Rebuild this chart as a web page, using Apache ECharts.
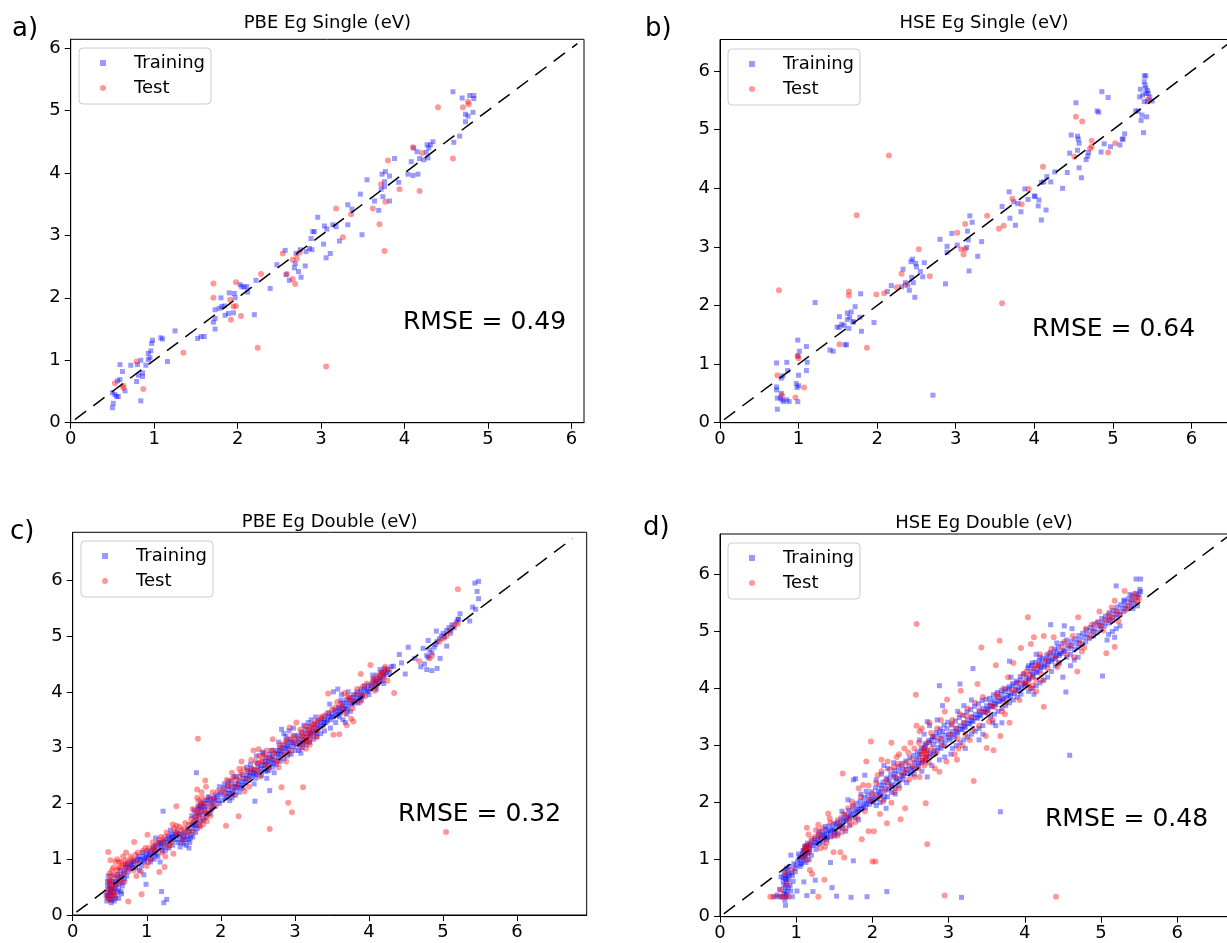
<!DOCTYPE html>
<html>
<head>
<meta charset="utf-8">
<script src="https://cdn.jsdelivr.net/npm/echarts@6/dist/echarts.min.js"></script>
<style>html,body{margin:0;padding:0;background:#fff}#c{width:1227px;height:943px}</style>
</head>
<body>
<div id="c"></div>
<script>
const tickValues = [0, 1, 2, 3, 4, 5, 6];
const panelTitles = ['PBE Eg Single (eV)', 'HSE Eg Single (eV)', 'PBE Eg Double (eV)', 'HSE Eg Double (eV)'];
const panelLetters = ['a)', 'b)', 'c)', 'd)'];
const rmseValues = ['0.49', '0.64', '0.32', '0.48'];
const seriesNames = ['Training', 'Test'];
const xMax = [6.15, 6.72, 6.94, 6.93];
const yMax = [6.14, 6.54, 6.86, 6.71];
const parityEnds = [[0.05, 6.07], [0.05, 6.9], [0.05, 6.75], [0.05, 6.9]];

const pbeSingleTrain = [[0.50,0.24],[0.51,0.31],[0.50,0.48],[0.53,0.45],[0.55,0.42],[0.56,0.67],[0.59,0.69],[0.59,0.93],[0.62,0.82],[0.65,0.51],[0.57,0.42],[0.72,0.92],[0.79,0.66],[0.80,0.93],[0.84,0.35],[0.84,1.00],[0.81,0.76],[0.86,0.74],[0.86,0.80],[0.90,0.92],[0.93,1.01],[0.93,1.11],[0.96,1.15],[0.95,1.04],[0.97,1.27],[0.98,1.32],[1.08,1.36],[1.10,1.34],[1.16,0.98],[1.25,1.47],[1.52,1.35],[1.56,1.38],[1.60,1.38],[1.71,1.61],[1.73,1.50],[1.73,1.67],[1.73,1.81],[1.78,1.83],[1.81,1.86],[1.84,1.87],[1.80,2.00],[1.85,1.72],[1.89,1.75],[1.90,2.08],[1.95,1.76],[1.96,2.07],[1.97,2.00],[2.03,2.21],[2.05,2.18],[2.08,2.17],[2.11,2.18],[2.12,2.09],[2.20,1.73],[2.22,2.28],[2.39,2.15],[2.47,2.53],[2.57,2.76],[2.58,2.37],[2.62,2.28],[2.68,2.48],[2.69,2.55],[2.70,2.71],[2.73,2.42],[2.75,2.77],[2.76,2.33],[2.81,2.51],[2.82,2.74],[2.86,2.79],[2.88,2.95],[2.90,3.06],[2.92,3.06],[2.89,2.77],[2.96,3.29],[3.03,2.86],[3.04,3.15],[3.06,2.64],[3.07,3.10],[3.11,2.71],[3.14,3.17],[3.18,3.14],[3.22,2.91],[3.32,3.49],[3.32,3.17],[3.37,3.42],[3.47,3.66],[3.49,3.01],[3.55,3.89],[3.64,3.55],[3.69,3.40],[3.72,3.74],[3.73,3.98],[3.74,3.62],[3.76,3.78],[3.77,4.02],[3.76,3.86],[3.82,3.55],[3.82,3.95],[3.88,4.23],[3.93,3.85],[4.04,3.98],[4.08,4.18],[4.10,3.96],[4.11,4.40],[4.16,3.98],[4.15,4.34],[4.18,4.23],[4.23,4.21],[4.26,4.33],[4.27,4.45],[4.29,4.40],[4.31,4.45],[4.34,4.50],[4.28,4.24],[4.59,4.49],[4.66,4.59],[4.58,5.30],[4.69,5.20],[4.78,5.24],[4.83,5.24],[4.83,5.19],[4.73,4.94],[4.76,4.91],[4.82,4.97],[4.73,4.82]];
const pbeSingleTest = [[0.53,0.63],[0.63,0.59],[0.63,0.56],[0.79,0.98],[0.87,0.54],[1.35,1.12],[1.71,2.23],[1.71,2.00],[1.92,1.65],[1.91,1.97],[1.95,1.86],[1.98,1.87],[1.98,2.25],[2.04,1.71],[2.24,1.20],[2.28,2.38],[2.54,2.71],[2.59,2.38],[2.66,2.61],[2.71,2.63],[2.66,2.30],[2.69,2.22],[2.74,2.72],[3.06,0.90],[3.18,3.43],[3.26,2.97],[3.36,3.34],[3.62,3.43],[3.70,3.18],[3.72,3.82],[3.76,2.75],[3.77,3.54],[3.80,4.20],[3.94,3.74],[4.10,4.41],[4.18,3.71],[4.21,4.32],[4.40,5.05],[4.58,4.23],[4.70,5.05],[4.76,5.14],[4.77,5.10]];

const hseSingleTrain = [[0.72,1.02],[0.72,0.61],[0.72,0.56],[0.73,0.42],[0.73,0.23],[0.78,0.76],[0.80,0.80],[0.78,0.50],[0.79,0.39],[0.81,0.36],[0.85,1.03],[0.86,0.89],[0.85,0.39],[0.88,0.36],[0.77,0.42],[0.99,1.41],[1.01,1.22],[0.99,1.14],[1.00,0.81],[0.97,0.67],[0.98,0.60],[1.00,0.63],[0.99,0.36],[1.10,1.30],[1.11,1.03],[1.10,0.89],[1.21,2.05],[1.40,1.24],[1.44,1.22],[1.49,1.63],[1.52,1.81],[1.52,1.63],[1.55,1.68],[1.58,1.66],[1.59,1.33],[1.61,1.33],[1.62,1.87],[1.62,1.76],[1.64,1.61],[1.65,1.80],[1.67,1.89],[1.69,1.72],[1.72,1.98],[1.70,1.72],[1.78,1.80],[1.79,2.20],[1.80,1.56],[1.96,1.71],[2.13,2.24],[2.18,2.34],[2.31,2.32],[2.33,2.62],[2.36,2.39],[2.39,2.35],[2.41,2.26],[2.43,2.75],[2.44,2.48],[2.45,2.79],[2.46,2.39],[2.48,2.14],[2.49,2.72],[2.50,2.66],[2.55,2.58],[2.58,2.49],[2.60,2.73],[2.71,0.47],[2.80,3.13],[2.87,2.37],[2.89,3.01],[2.89,2.91],[2.95,3.23],[3.02,3.03],[3.14,2.99],[3.15,3.27],[3.16,3.12],[3.17,2.59],[3.18,3.53],[3.21,3.42],[3.28,2.84],[3.33,3.09],[3.59,3.69],[3.68,3.94],[3.69,3.49],[3.74,3.77],[3.76,3.37],[3.79,3.74],[3.83,3.60],[3.88,3.99],[3.92,3.81],[4.00,3.87],[4.01,3.86],[4.05,3.70],[4.06,3.80],[4.09,4.10],[4.09,3.46],[4.12,4.11],[4.15,3.63],[4.16,4.20],[4.21,4.11],[4.26,4.28],[4.36,4.00],[4.42,4.27],[4.45,4.60],[4.47,4.91],[4.53,5.46],[4.55,4.89],[4.56,4.84],[4.57,4.77],[4.57,4.35],[4.55,4.65],[4.60,4.18],[4.66,4.49],[4.69,4.61],[4.68,4.55],[4.80,5.32],[4.82,5.30],[4.86,5.65],[4.85,4.62],[4.89,4.76],[4.94,5.55],[4.97,4.71],[5.09,4.74],[5.12,4.84],[5.13,4.84],[5.15,4.93],[5.29,5.32],[5.32,5.32],[5.34,5.56],[5.35,5.69],[5.36,5.16],[5.37,5.25],[5.39,4.95],[5.40,5.92],[5.42,5.92],[5.40,5.82],[5.41,5.76],[5.42,5.71],[5.42,5.62],[5.43,5.22],[5.44,5.67],[5.45,5.62],[5.38,5.59],[5.40,5.48],[5.44,5.48],[5.47,5.56],[5.50,5.49]];
const hseSingleTest = [[0.73,0.81],[0.75,2.26],[0.79,0.47],[0.96,0.43],[0.99,1.14],[1.00,1.10],[1.07,0.60],[1.52,1.34],[1.64,2.24],[1.64,2.17],[1.74,3.54],[1.87,1.28],[1.99,2.19],[2.09,2.21],[2.15,4.56],[2.25,2.31],[2.31,2.54],[2.36,2.35],[2.53,2.96],[2.67,2.50],[3.02,3.24],[3.07,2.96],[3.10,2.87],[3.12,2.96],[3.12,3.39],[3.40,3.53],[3.55,3.31],[3.59,2.04],[3.61,3.36],[3.72,3.82],[3.84,3.73],[3.93,3.99],[4.11,4.37],[4.51,4.54],[4.53,5.22],[4.61,5.14],[4.71,4.68],[4.73,4.71],[4.73,4.81],[4.94,4.61],[5.03,4.77],[5.45,5.52]];

const pbeDoubleTrain = [[0.46,0.25],[0.47,0.32],[0.48,0.40],[0.49,0.45],[0.47,0.52],[0.50,0.28],[0.52,0.35],[0.53,0.50],[0.55,0.42],[0.57,0.60],[0.50,0.60],[0.48,0.70],[0.55,0.70],[0.60,0.65],[0.62,0.55],[0.58,0.30],[0.52,0.22],[0.56,0.25],[0.62,0.30],[0.65,0.42],[0.65,0.72],[0.70,0.80],[0.72,0.85],[0.75,0.78],[0.78,0.88],[0.80,0.90],[0.82,0.95],[0.85,0.85],[0.88,0.92],[0.90,0.98],[0.92,1.00],[0.95,1.05],[0.97,0.95],[0.99,1.10],[1.00,1.02],[0.70,0.65],[0.68,0.58],[0.74,0.92],[0.62,0.45],[0.66,0.38],[0.90,0.80],[0.93,0.88],[0.96,0.72],[0.99,0.55],[1.02,1.05],[1.05,1.12],[1.08,1.18],[1.10,1.10],[1.12,1.25],[1.15,1.20],[1.18,1.28],[1.20,1.30],[1.22,1.22],[1.25,1.35],[1.28,1.30],[1.30,1.38],[1.33,1.40],[1.35,1.35],[1.38,1.45],[1.40,1.42],[1.42,1.30],[1.45,1.38],[1.48,1.45],[1.50,1.40],[1.05,0.95],[1.10,1.00],[1.15,1.05],[1.18,0.95],[1.25,1.15],[1.30,1.20],[1.35,1.25],[1.45,1.22],[1.50,1.28],[1.12,1.38],[1.22,1.86],[1.32,1.52],[1.20,0.42],[1.27,0.28],[1.23,0.22],[1.52,1.35],[1.55,1.42],[1.58,1.30],[1.58,1.50],[1.60,1.45],[1.62,1.55],[1.63,1.65],[1.65,1.60],[1.65,1.75],[1.67,1.70],[1.68,1.82],[1.70,1.78],[1.70,1.90],[1.72,1.85],[1.72,1.95],[1.74,1.92],[1.75,1.80],[1.76,2.00],[1.78,1.88],[1.80,1.95],[1.82,2.05],[1.85,2.00],[1.88,1.92],[1.90,2.10],[1.92,2.05],[1.95,2.12],[1.98,2.00],[2.00,2.15],[1.55,1.55],[1.60,1.62],[1.68,1.55],[1.73,1.68],[1.80,1.75],[1.85,1.82],[1.62,1.40],[1.66,1.48],[1.67,2.55],[2.02,2.05],[2.05,2.20],[2.08,2.12],[2.10,2.25],[2.12,2.18],[2.15,2.30],[2.18,2.22],[2.20,2.35],[2.22,2.28],[2.25,2.40],[2.28,2.32],[2.30,2.45],[2.33,2.38],[2.35,2.50],[2.38,2.42],[2.40,2.55],[2.42,2.48],[2.45,2.60],[2.48,2.52],[2.50,2.65],[2.05,2.35],[2.10,2.40],[2.15,2.10],[2.20,2.15],[2.25,2.20],[2.30,2.28],[2.35,2.65],[2.40,2.70],[2.45,2.35],[2.18,2.48],[1.98,2.30],[2.12,2.05],[2.46,2.53],[2.46,2.04],[2.52,2.55],[2.55,2.68],[2.58,2.62],[2.60,2.75],[2.62,2.70],[2.65,2.80],[2.68,2.72],[2.70,2.85],[2.72,2.78],[2.75,2.90],[2.78,2.82],[2.80,2.95],[2.82,2.88],[2.85,3.00],[2.88,2.92],[2.90,3.05],[2.92,2.98],[2.95,3.10],[2.98,3.02],[3.00,2.95],[2.55,2.50],[2.60,2.58],[2.65,2.60],[2.70,2.65],[2.75,2.70],[2.80,2.75],[2.85,2.80],[2.90,2.85],[2.95,2.88],[2.62,2.45],[2.68,2.95],[2.78,3.10],[2.82,3.33],[2.88,3.20],[2.92,3.30],[2.98,3.35],[2.85,3.25],[2.58,2.90],[2.72,2.55],[2.66,2.23],[3.02,3.05],[3.05,3.15],[3.08,3.10],[3.10,3.20],[3.12,3.15],[3.15,3.25],[3.18,3.20],[3.20,3.30],[3.22,3.25],[3.25,3.35],[3.28,3.30],[3.30,3.40],[3.32,3.35],[3.35,3.45],[3.38,3.40],[3.40,3.50],[3.42,3.45],[3.45,3.55],[3.48,3.50],[3.50,3.60],[3.05,2.95],[3.10,3.00],[3.15,3.05],[3.20,3.10],[3.25,3.15],[3.30,3.20],[3.35,3.25],[3.40,3.30],[3.12,3.40],[3.22,3.50],[3.28,3.55],[3.18,3.45],[3.08,2.90],[3.48,3.35],[3.47,3.78],[3.52,3.55],[3.55,3.65],[3.58,3.60],[3.60,3.70],[3.62,3.65],[3.65,3.75],[3.68,3.70],[3.70,3.80],[3.72,3.75],[3.75,3.85],[3.78,3.80],[3.80,3.90],[3.82,3.85],[3.85,3.95],[3.88,3.90],[3.90,4.00],[3.92,3.95],[3.95,4.05],[3.98,4.00],[3.60,3.55],[3.65,3.50],[3.70,3.60],[3.75,3.65],[3.62,3.85],[3.72,4.00],[3.58,4.05],[3.85,3.80],[3.90,3.85],[3.55,3.45],[3.68,3.45],[4.02,4.05],[4.05,4.15],[4.08,4.10],[4.10,4.20],[4.12,4.15],[4.15,4.25],[4.18,4.20],[4.20,4.30],[4.22,4.35],[4.25,4.40],[4.28,4.35],[4.15,4.40],[4.05,4.30],[4.00,3.95],[4.10,4.05],[4.20,4.15],[4.30,4.45],[4.33,4.46],[4.41,4.67],[4.44,4.52],[4.49,4.32],[4.53,4.80],[4.62,4.60],[4.70,4.45],[4.73,4.78],[4.75,4.50],[4.78,4.65],[4.80,4.62],[4.82,4.75],[4.85,4.70],[4.88,4.80],[4.90,4.85],[4.92,4.90],[4.95,4.95],[4.98,5.00],[5.00,5.05],[5.02,4.98],[5.05,5.10],[5.08,5.15],[5.10,5.05],[5.12,5.20],[5.15,5.15],[5.18,5.25],[5.20,5.30],[4.78,4.40],[4.85,4.38],[4.92,4.42],[4.96,4.60],[5.05,4.82],[4.80,4.92],[5.21,5.30],[5.23,5.40],[5.36,5.27],[5.40,5.52],[5.44,5.48],[5.48,5.67],[5.46,5.80],[5.43,5.95],[5.48,5.98],[4.91,5.09],
[0.47,0.60],[0.49,0.35],[0.51,0.42],[0.53,0.28],[0.54,0.60],[0.56,0.48],[0.58,0.55],[0.60,0.40],[0.61,0.72],[0.63,0.62],[0.64,0.80],[0.66,0.68],[0.67,0.52],[0.69,0.75],[0.71,0.90],[0.73,0.70],[0.76,0.85],[0.79,0.95],[0.81,0.85],[0.83,0.98],[0.87,1.00],[0.89,1.05],[0.94,1.12],[0.96,0.98],[0.98,1.02],[0.45,0.35],[0.50,0.52],[0.52,0.45],[0.55,0.35],[0.58,0.48],[1.01,1.15],[1.04,1.08],[1.07,1.02],[1.09,1.22],[1.11,1.15],[1.13,1.08],[1.16,1.30],[1.19,1.22],[1.21,1.15],[1.23,1.32],[1.26,1.25],[1.29,1.42],[1.31,1.33],[1.34,1.45],[1.36,1.40],[1.39,1.35],[1.41,1.50],[1.44,1.45],[1.46,1.30],[1.49,1.36],[1.51,1.48],[1.53,1.25],[1.56,1.35],[1.57,1.20],[1.59,1.38],[1.61,1.78],[1.64,1.88],[1.66,1.62],[1.69,1.95],[1.71,1.60],[1.73,2.02],[1.76,1.70],[1.77,1.95],[1.79,2.05],[1.81,1.82],[1.83,2.12],[1.86,2.08],[1.87,1.88],[1.89,2.02],[1.91,1.95],[1.93,2.15],[1.96,2.05],[1.99,2.20],[2.04,2.28],[2.06,2.10],[2.09,2.32],[2.11,2.18],[2.14,2.40],[2.16,2.22],[2.19,2.30],[2.21,2.48],[2.24,2.35],[2.26,2.28],[2.29,2.52],[2.31,2.38],[2.34,2.45],[2.36,2.58],[2.39,2.50],[2.41,2.62],[2.44,2.55],[2.47,2.45],[2.49,2.72],[2.53,2.62],[2.56,2.75],[2.59,2.68],[2.61,2.82],[2.64,2.75],[2.66,2.88],[2.69,2.80],[2.71,2.72],[2.74,2.95],[2.77,2.88],[2.79,3.00],[2.81,2.92],[2.84,3.05],[2.87,2.98],[2.89,3.12],[2.91,3.02],[2.94,3.15],[2.97,3.08],[2.99,3.22],[2.48,2.85],[2.56,2.92],[2.63,2.58],[3.01,3.12],[3.04,3.22],[3.07,3.05],[3.09,3.28],[3.11,3.08],[3.14,3.32],[3.16,3.12],[3.19,3.38],[3.21,3.22],[3.24,3.28],[3.26,3.42],[3.29,3.25],[3.31,3.48],[3.34,3.38],[3.36,3.52],[3.39,3.45],[3.41,3.58],[3.44,3.48],[3.46,3.62],[3.49,3.55],[3.53,3.68],[3.56,3.58],[3.59,3.72],[3.61,3.62],[3.64,3.80],[3.66,3.70],[3.69,3.85],[3.71,3.68],[3.74,3.90],[3.77,3.78],[3.79,3.95],[3.81,3.82],[3.84,4.00],[3.87,3.88],[3.89,4.05],[3.91,3.92],[3.94,4.10],[3.97,4.02],[3.99,4.12],[4.03,4.12],[4.06,4.22],[4.09,4.18],[4.11,4.30],[4.14,4.22],[4.17,4.35],[4.19,4.28],[4.21,4.42],[4.24,4.32],[3.63,3.95],[3.52,4.00]];
const pbeDoubleTest = [[0.47,0.35],[0.50,0.48],[0.52,0.62],[0.55,0.55],[0.58,0.72],[0.60,0.80],[0.50,0.75],[0.53,0.40],[0.48,0.30],[0.62,0.68],[0.65,0.85],[0.68,0.90],[0.56,0.33],[0.51,0.27],[0.48,1.13],[0.51,0.98],[0.75,0.24],[0.63,0.95],[0.68,1.05],[0.72,0.98],[0.76,0.82],[0.80,1.00],[0.85,1.08],[0.88,1.12],[0.83,1.31],[0.72,1.12],[0.86,0.70],[0.95,1.15],[0.98,1.20],[1.00,0.88],[0.70,0.60],[0.92,0.78],[0.93,0.37],[1.01,1.44],[1.17,0.77],[1.24,0.86],[1.03,1.20],[1.08,1.30],[1.12,1.15],[1.17,1.35],[1.20,1.12],[1.24,1.40],[1.28,1.22],[1.33,1.30],[1.37,1.55],[1.40,1.60],[1.43,1.45],[1.47,1.52],[1.05,1.00],[1.25,1.05],[1.36,1.10],[1.50,1.55],[1.40,1.95],[1.53,1.45],[1.57,1.62],[1.60,1.72],[1.63,1.50],[1.66,1.85],[1.69,1.65],[1.71,1.75],[1.73,1.98],[1.75,2.10],[1.77,1.72],[1.79,1.85],[1.81,1.68],[1.83,1.90],[1.86,1.78],[1.70,2.05],[1.68,2.25],[1.74,2.20],[1.80,2.30],[1.89,2.20],[1.93,1.95],[1.96,2.22],[1.69,3.16],[1.79,2.41],[2.07,1.60],[2.24,1.77],[2.03,2.25],[2.08,2.42],[2.13,2.35],[2.17,2.15],[2.22,2.42],[2.27,2.55],[2.32,2.22],[2.37,2.58],[2.42,2.62],[2.47,2.75],[2.50,2.58],[2.52,2.85],[2.38,2.30],[2.25,2.62],[2.15,2.55],[2.28,2.75],[2.44,2.95],[2.51,2.97],[2.55,2.75],[2.60,2.85],[2.65,2.65],[2.70,2.95],[2.75,2.75],[2.80,3.05],[2.85,2.88],[2.90,3.15],[2.95,2.95],[2.98,3.10],[2.62,2.95],[2.78,2.65],[2.88,2.75],[2.70,3.15],[2.93,3.36],[3.02,3.45],[2.82,2.29],[2.91,2.01],[2.96,1.84],[2.66,1.54],[3.11,2.29],[3.05,3.08],[3.10,3.25],[3.13,3.10],[3.16,3.18],[3.18,3.32],[3.20,3.15],[3.22,3.38],[3.25,3.22],[3.28,3.45],[3.30,3.30],[3.15,2.98],[3.08,3.00],[3.35,3.55],[3.20,3.05],[3.12,3.12],[3.52,3.23],[3.60,3.24],[3.45,3.97],[3.67,3.98],[3.79,3.47],[3.89,4.32],[3.55,3.72],[3.62,3.78],[3.68,3.62],[3.73,3.88],[3.78,3.70],[3.82,3.95],[3.88,3.82],[3.92,4.10],[3.95,3.92],[3.76,3.52],[3.70,3.40],[4.02,4.48],[4.34,3.98],[4.05,4.20],[4.10,4.12],[4.15,4.30],[4.18,4.35],[4.20,4.25],[4.22,4.45],[4.25,4.20],[4.12,4.25],[4.08,4.02],[4.68,4.55],[4.82,4.60],[4.85,4.65],[4.95,4.90],[5.00,4.95],[5.05,5.00],[5.10,5.10],[5.15,5.20],[5.20,5.22],[5.20,5.84],[5.04,1.49],
[0.50,0.55],[0.52,0.70],[0.55,0.85],[0.58,0.95],[0.60,0.55],[0.62,0.85],[0.65,0.60],[0.66,0.95],[0.70,0.75],[0.72,0.88],[0.54,0.45],[0.57,0.38],[0.46,0.42],[0.49,0.62],[0.53,0.80],[0.60,1.00],[0.75,0.95],[0.78,1.05],[0.82,0.80],[0.85,0.95],[1.02,0.95],[1.06,1.15],[1.10,1.22],[1.14,1.28],[1.19,1.40],[1.22,1.30],[1.27,1.48],[1.31,1.25],[1.35,1.62],[1.39,1.48],[1.44,1.58],[1.48,1.35],[1.52,1.65],[1.56,1.50],[1.62,1.90],[1.64,1.68],[1.67,1.78],[1.70,1.92],[1.72,1.58],[1.74,1.85],[1.76,1.62],[1.78,2.00],[1.82,1.80],[1.84,2.10],[1.87,1.98],[1.91,2.08],[1.68,2.10],[2.06,2.18],[2.11,2.30],[2.16,2.45],[2.21,2.30],[2.26,2.48],[2.31,2.62],[2.36,2.45],[2.41,2.78],[2.46,2.60],[2.51,2.72],[2.56,2.85],[2.61,2.70],[2.67,2.82],[2.72,2.90],[2.77,2.78],[2.82,2.98],[2.87,3.10],[2.92,2.90],[2.97,3.20],[2.53,2.48],[3.03,3.18],[3.07,3.32],[3.11,3.20],[3.14,3.38],[3.17,3.25],[3.19,3.10],[3.21,3.28],[3.24,3.42],[3.27,3.35],[3.29,3.18],[3.32,3.48],[3.38,3.55],[3.44,3.62],[3.50,3.68],[3.57,3.82],[3.64,3.72],[3.71,3.92],[3.77,3.85],[3.84,4.05],[3.90,3.95],[3.97,4.15],[4.03,4.08],[4.07,4.25],[4.13,4.18],[4.17,4.32],[4.21,4.38],[4.26,4.40]];

const hseDoubleTrain = [[0.82,0.35],[0.84,0.40],[0.85,0.45],[0.86,0.52],[0.87,0.60],[0.88,0.68],[0.86,0.72],[0.84,0.78],[0.89,0.75],[0.90,0.65],[0.83,0.62],[0.87,0.85],[0.91,0.88],[0.80,0.70],[0.78,0.48],[0.75,0.38],[0.86,0.20],[0.92,0.55],[0.95,0.72],[0.98,0.85],[0.96,0.62],[0.93,0.45],[0.72,0.35],[0.78,0.35],[0.88,0.35],[0.95,0.35],[1.00,0.90],[1.02,0.98],[1.05,1.05],[1.08,1.10],[1.10,1.15],[1.12,1.20],[1.14,1.25],[1.16,1.22],[1.12,1.05],[1.10,0.98],[1.15,1.10],[1.18,1.18],[1.07,0.92],[1.05,0.88],[1.03,1.10],[1.20,1.08],[1.13,0.95],[1.17,1.00],[1.01,0.45],[1.10,0.61],[1.14,0.37],[1.22,0.44],[1.25,0.64],[0.93,1.08],[1.22,1.25],[1.25,1.30],[1.28,1.35],[1.30,1.28],[1.32,1.40],[1.35,1.42],[1.38,1.38],[1.40,1.45],[1.42,1.50],[1.45,1.48],[1.48,1.55],[1.50,1.52],[1.35,1.30],[1.40,1.35],[1.45,1.40],[1.50,1.42],[1.30,1.50],[1.26,1.18],[1.47,0.51],[1.45,0.95],[1.53,0.36],[1.38,1.58],[1.52,1.62],[1.55,1.58],[1.58,1.65],[1.60,1.55],[1.62,1.70],[1.65,1.68],[1.68,1.75],[1.70,1.72],[1.72,1.80],[1.75,1.85],[1.78,1.82],[1.80,1.90],[1.82,1.88],[1.85,1.95],[1.88,1.92],[1.90,2.00],[1.92,1.98],[1.95,2.05],[1.98,2.02],[1.60,1.85],[1.65,1.50],[1.70,1.60],[1.75,2.40],[1.78,2.42],[1.90,2.48],[1.85,2.15],[1.92,2.20],[1.72,0.34],[1.75,0.98],[1.93,0.35],[1.68,2.05],[1.82,1.70],[1.55,1.45],[2.00,2.10],[2.02,2.05],[2.05,2.15],[2.08,2.20],[2.10,2.12],[2.12,2.25],[2.15,2.30],[2.18,2.22],[2.20,2.35],[2.22,2.40],[2.25,2.32],[2.28,2.45],[2.30,2.50],[2.32,2.42],[2.35,2.55],[2.38,2.48],[2.40,2.60],[2.42,2.52],[2.45,2.58],[2.48,2.65],[2.05,1.95],[2.10,2.00],[2.15,2.05],[2.20,2.10],[2.25,2.18],[2.30,2.25],[2.35,2.30],[2.12,2.50],[2.20,2.60],[2.28,2.70],[2.05,2.40],[2.18,1.90],[2.30,2.15],[2.19,0.44],[2.40,2.40],[2.45,2.35],[2.50,2.50],[2.15,2.65],[2.52,2.60],[2.55,2.70],[2.58,2.75],[2.60,2.80],[2.62,2.85],[2.65,2.90],[2.68,2.95],[2.70,3.00],[2.72,2.92],[2.75,3.05],[2.78,3.10],[2.80,3.02],[2.82,3.15],[2.85,3.08],[2.88,3.20],[2.90,3.12],[2.92,3.25],[2.95,3.18],[2.98,3.30],[2.60,2.65],[2.65,2.70],[2.70,2.75],[2.75,2.80],[2.80,2.85],[2.85,2.90],[2.90,2.95],[2.95,3.00],[2.68,3.20],[2.75,3.35],[2.72,3.42],[2.85,3.45],[2.88,4.05],[2.92,3.70],[2.62,3.10],[2.55,2.50],[2.65,2.55],[2.78,2.65],[2.88,2.75],[2.95,2.80],[2.72,2.45],[3.00,3.20],[3.02,3.10],[3.05,3.25],[3.08,3.15],[3.10,3.30],[3.12,3.22],[3.15,3.35],[3.18,3.28],[3.20,3.40],[3.22,3.32],[3.25,3.45],[3.28,3.38],[3.30,3.50],[3.32,3.42],[3.35,3.55],[3.38,3.48],[3.40,3.60],[3.42,3.52],[3.45,3.65],[3.48,3.58],[3.50,3.70],[3.05,2.95],[3.10,3.00],[3.15,3.05],[3.20,3.10],[3.25,3.15],[3.30,3.20],[3.35,3.25],[3.40,3.30],[3.45,3.35],[3.12,3.60],[3.20,3.70],[3.30,3.80],[3.15,4.08],[3.32,4.35],[3.40,3.10],[3.45,3.20],[3.17,0.34],[3.03,2.85],[3.22,2.95],[3.52,3.62],[3.55,3.75],[3.58,3.68],[3.60,3.80],[3.62,3.72],[3.65,3.85],[3.68,3.78],[3.70,3.90],[3.72,3.82],[3.75,3.95],[3.78,3.88],[3.80,4.00],[3.82,3.92],[3.85,4.05],[3.88,3.98],[3.90,4.10],[3.92,4.02],[3.95,4.15],[3.98,4.08],[3.55,3.50],[3.60,3.55],[3.65,3.60],[3.70,3.65],[3.75,3.70],[3.80,3.75],[3.85,3.80],[3.90,3.85],[3.70,3.40],[3.82,4.20],[3.80,4.48],[3.68,1.84],[3.62,3.35],[3.95,3.90],[3.58,3.40],[4.00,4.05],[4.02,4.20],[4.05,4.15],[4.08,4.30],[4.10,4.25],[4.12,4.35],[4.15,4.28],[4.18,4.40],[4.20,4.32],[4.22,4.45],[4.25,4.38],[4.28,4.50],[4.30,4.42],[4.32,4.55],[4.35,4.48],[4.38,4.60],[4.40,4.52],[4.42,4.65],[4.45,4.58],[4.48,4.62],[4.05,3.95],[4.10,4.00],[4.15,4.05],[4.20,4.10],[4.25,4.15],[4.30,4.20],[4.10,4.45],[4.05,4.40],[4.15,4.60],[4.20,4.55],[4.35,4.30],[4.40,4.40],[4.45,4.45],[4.42,4.80],[4.34,5.12],[4.54,3.94],[4.59,2.83],[4.50,4.20],[4.12,3.90],[4.52,4.65],[4.55,4.55],[4.58,4.70],[4.60,4.60],[4.62,4.75],[4.65,4.68],[4.68,4.80],[4.70,4.72],[4.72,4.85],[4.75,4.78],[4.78,4.90],[4.80,4.82],[4.82,4.95],[4.85,4.88],[4.88,5.00],[4.90,4.92],[4.92,5.05],[4.95,4.98],[4.98,5.10],[4.60,4.40],[4.65,4.50],[4.70,4.55],[4.55,4.85],[4.52,5.10],[4.62,5.05],[4.50,4.95],[5.00,5.05],[5.02,5.15],[5.05,5.10],[5.08,5.20],[5.10,5.15],[5.12,5.25],[5.15,5.20],[5.18,5.30],[5.20,5.25],[5.22,5.35],[5.25,5.30],[5.28,5.40],[5.30,5.35],[5.32,5.45],[5.35,5.40],[5.38,5.50],[5.40,5.45],[5.42,5.55],[5.45,5.50],[5.48,5.60],[5.50,5.65],[5.52,5.70],[5.15,5.00],[5.20,5.05],[5.25,5.10],[5.18,4.90],[5.10,4.95],[5.30,5.55],[5.20,5.80],[5.46,5.92],[5.52,5.92],[5.02,4.22],[5.38,5.65],[5.42,5.40],[5.48,5.45],[5.08,4.85],
[0.84,0.55],[0.86,0.66],[0.88,0.44],[0.89,0.82],[0.90,0.51],[0.85,0.29],[0.83,0.69],[0.87,0.38],[0.91,0.73],[0.94,0.77],[0.97,0.93],[0.99,0.79],[1.04,1.01],[1.06,0.94],[1.09,1.16],[1.11,1.07],[1.13,1.19],[1.15,1.29],[1.17,1.14],[1.19,1.26],[1.11,1.23],[1.09,1.03],[1.21,1.33],[1.24,1.37],[1.27,1.27],[1.29,1.43],[1.31,1.34],[1.34,1.49],[1.37,1.44],[1.39,1.53],[1.41,1.39],[1.43,1.59],[1.46,1.51],[1.49,1.63],[1.51,1.47],[1.54,1.66],[1.57,1.57],[1.59,1.73],[1.61,1.61],[1.64,1.79],[1.66,1.69],[1.69,1.86],[1.71,1.77],[1.74,1.93],[1.77,1.74],[1.79,1.99],[1.81,1.84],[1.84,2.03],[1.86,1.89],[1.89,2.09],[1.91,1.91],[1.94,2.13],[1.96,1.97],[1.99,2.19],[2.01,2.01],[2.04,2.26],[2.06,2.07],[2.09,2.31],[2.11,2.17],[2.14,2.36],[2.16,2.11],[2.19,2.43],[2.21,2.24],[2.24,2.49],[2.26,2.29],[2.29,2.56],[2.31,2.37],[2.34,2.63],[2.36,2.41],[2.39,2.69],[2.41,2.47],[2.44,2.73],[2.46,2.51],[2.49,2.79],[2.51,2.57],[2.54,2.83],[2.56,2.61],[2.59,2.89],[2.61,2.69],[2.64,2.96],[2.66,2.74],[2.69,3.03],[2.71,2.81],[2.74,3.09],[2.76,2.87],[2.79,3.16],[2.81,2.91],[2.84,3.23],[2.86,2.97],[2.89,3.29],[2.91,3.04],[2.94,3.36],[2.96,3.09],[2.99,3.41],[3.01,3.14],[3.04,3.36],[3.06,3.19],[3.09,3.43],[3.11,3.24],[3.14,3.49],[3.16,3.29],[3.19,3.53],[3.21,3.34],[3.24,3.59],[3.26,3.39],[3.29,3.63],[3.31,3.44],[3.34,3.69],[3.36,3.49],[3.39,3.73],[3.41,3.54],[3.44,3.79],[3.46,3.59],[3.49,3.81],[3.51,3.64],[3.54,3.83],[3.56,3.69],[3.59,3.89],[3.61,3.74],[3.64,3.93],[3.66,3.77],[3.69,3.96],[3.71,3.81],[3.74,3.99],[3.76,3.84],[3.79,4.03],[3.81,3.87],[3.84,4.09],[3.86,3.91],[3.89,4.13],[3.91,3.97],[3.94,4.21],[3.96,4.01],[3.99,4.26],[4.01,4.09],[4.04,4.36],[4.06,4.17],[4.09,4.41],[4.11,4.21],[4.14,4.46],[4.16,4.29],[4.19,4.49],[4.21,4.37],[4.24,4.53],[4.26,4.41],[4.29,4.59],[4.31,4.47],[4.34,4.63],[4.36,4.51],[4.39,4.69],[4.41,4.57],[4.44,4.73],[4.46,4.61],[4.49,4.79],[4.51,4.67],[4.56,4.76],[4.61,4.83],[4.66,4.87],[4.71,4.93],[4.76,4.97],[4.81,5.03],[4.86,5.07],[4.91,5.13],[4.96,5.17],[5.01,5.23],[5.06,5.27],[5.11,5.33],[5.16,5.37],[5.21,5.43],[5.26,5.47],[5.31,5.53],[5.36,5.57],[5.41,5.63],[5.46,5.67],[5.51,5.74]];
const hseDoubleTest = [[0.66,0.35],[0.70,0.35],[0.80,0.35],[0.85,0.35],[0.90,0.35],[1.29,0.35],[2.95,0.37],[4.41,0.35],[0.80,0.47],[0.88,0.58],[0.86,0.78],[0.95,0.82],[1.08,1.05],[1.12,1.10],[1.14,1.18],[1.16,1.12],[1.13,1.22],[1.15,1.00],[1.18,1.28],[1.21,0.75],[1.18,0.82],[1.14,1.56],[1.16,1.44],[1.29,1.61],[1.42,1.81],[1.37,0.65],[1.49,1.13],[1.58,1.13],[1.63,1.04],[1.25,1.40],[1.30,1.45],[1.35,1.55],[1.40,1.30],[1.45,1.65],[1.48,1.42],[1.38,1.22],[1.32,1.20],[1.52,1.50],[1.55,1.70],[1.58,1.60],[1.60,1.48],[1.62,1.80],[1.65,1.55],[1.68,1.90],[1.70,1.70],[1.61,2.51],[1.75,1.95],[1.80,1.75],[1.85,2.10],[1.86,1.36],[1.90,1.85],[1.95,2.30],[1.98,3.07],[1.95,1.50],[2.00,2.15],[1.72,1.62],[1.82,2.25],[1.92,2.72],[2.00,0.97],[2.04,0.97],[2.02,1.50],[2.05,2.35],[2.08,2.10],[2.10,1.80],[2.12,2.55],[2.15,2.20],[2.18,2.40],[2.19,1.64],[2.20,2.72],[2.22,2.30],[2.25,2.00],[2.28,2.62],[2.30,2.45],[2.32,2.80],[2.35,2.25],[2.37,1.71],[2.38,2.65],[2.40,2.50],[2.42,2.95],[2.43,1.90],[2.45,2.70],[2.48,2.40],[2.50,3.05],[2.25,3.05],[2.35,2.85],[2.12,2.75],[2.52,2.75],[2.55,2.95],[2.57,3.89],[2.58,5.13],[2.60,2.60],[2.62,3.25],[2.65,2.85],[2.66,2.80],[2.68,2.90],[2.70,2.78],[2.70,1.99],[2.72,1.27],[2.72,3.05],[2.74,2.70],[2.75,3.40],[2.78,2.95],[2.80,3.15],[2.82,2.60],[2.85,3.30],[2.88,2.54],[2.90,3.45],[2.92,3.00],[2.95,3.60],[2.98,3.81],[2.58,3.35],[2.65,3.30],[2.62,2.45],[2.68,2.65],[2.55,2.45],[2.70,2.85],[3.02,3.20],[3.05,3.45],[3.08,2.85],[3.10,3.30],[3.11,2.75],[3.15,3.55],[3.16,3.96],[3.18,3.00],[3.20,3.40],[3.25,3.65],[3.28,3.10],[3.30,3.50],[3.33,2.38],[3.35,3.75],[3.38,4.08],[3.40,3.35],[3.43,4.72],[3.45,3.85],[3.49,3.17],[3.50,2.96],[3.48,3.60],[3.22,3.20],[3.12,3.12],[3.55,3.70],[3.58,3.45],[3.59,2.92],[3.62,4.41],[3.65,3.85],[3.67,4.84],[3.68,3.17],[3.70,3.60],[3.72,4.00],[3.75,3.75],[3.78,4.20],[3.80,3.40],[3.85,4.45],[3.88,3.95],[3.92,4.10],[3.95,4.71],[3.98,4.25],[3.60,3.68],[3.52,3.55],[4.00,4.10],[4.02,4.30],[4.04,5.25],[4.05,4.05],[4.08,4.78],[4.10,4.20],[4.12,4.90],[4.12,4.35],[4.15,4.15],[4.18,4.40],[4.20,4.60],[4.22,4.25],[4.25,3.68],[4.25,4.92],[4.28,4.50],[4.30,4.35],[4.35,4.70],[4.38,4.90],[4.40,4.55],[4.45,4.45],[4.49,4.71],[4.08,4.00],[4.15,3.95],[4.55,4.60],[4.60,4.75],[4.65,4.55],[4.69,4.30],[4.70,5.25],[4.72,4.80],[4.75,4.65],[4.80,5.05],[4.85,4.90],[4.90,5.00],[4.95,5.15],[4.98,5.35],[5.00,5.10],[5.05,5.20],[5.07,4.62],[5.10,5.30],[5.15,5.25],[5.18,4.73],[5.18,5.54],[5.20,5.35],[5.25,5.30],[5.31,5.71],[5.35,5.45],[5.40,5.55],[5.45,5.60],[5.50,5.58],[5.48,5.52],[5.12,5.20],
[1.10,1.16],[1.12,1.24],[1.17,1.20],[1.20,1.36],[1.26,1.52],[1.33,1.38],[1.44,1.72],[1.54,1.42],[1.66,1.76],[1.73,2.02],[1.78,1.66],[1.88,2.31],[1.97,2.05],[2.07,2.48],[2.14,2.02],[2.23,2.58],[2.29,2.18],[2.33,2.68],[2.44,2.58],[2.47,2.88],[2.53,2.64],[2.61,3.05],[2.64,2.74],[2.67,2.95],[2.69,2.72],[2.71,2.92],[2.73,2.84],[2.77,3.22],[2.83,2.86],[2.89,3.12],[2.97,2.72],[3.04,3.38],[3.13,2.95],[3.23,3.52],[3.32,3.28],[3.41,3.62],[3.53,3.42],[3.63,3.90],[3.74,3.55],[3.83,3.98],[3.93,3.80],[4.02,4.12],[4.06,4.24],[4.11,4.06],[4.16,4.40],[4.23,4.14],[4.32,4.62],[4.43,4.38],[4.52,4.82],[4.63,4.92],[4.78,4.72],[4.88,5.12],[5.03,5.02],[5.14,5.42],[5.23,5.18],[5.33,5.38],[5.44,5.66]];

const trainSets = [pbeSingleTrain, hseSingleTrain, pbeDoubleTrain, hseDoubleTrain];
const testSets = [pbeSingleTest, hseSingleTest, pbeDoubleTest, hseDoubleTest];

// layout (pixels)
const grids = [
  {left: 70.7, top: 39.3, width: 513.3, height: 383.4},
  {left: 720, top: 39.5, width: 528, height: 383.2},
  {left: 72.7, top: 532.3, width: 514, height: 382.7},
  {left: 720, top: 534, width: 528, height: 382.7}
];
const legendPos = [{left: 79, top: 48}, {left: 728, top: 49}, {left: 81, top: 541}, {left: 728, top: 543}];
const titleCenters = [[327.4, 14.5], [984, 14.5], [329.7, 513.5], [984, 514]];
const letterPos = [[12, 16], [645, 16], [10, 519], [643, 515]];
const rmsePos = [[403, 310], [1032, 317], [398, 802], [1045, 807]];

const FONT = 'DejaVu Sans';
const chart = echarts.init(document.getElementById('c'), null, {renderer: 'canvas'});

const option = {
  animation: false,
  backgroundColor: '#fff',
  grid: grids.map(g => Object.assign({show: true, borderColor: '#000', borderWidth: 1, backgroundColor: 'transparent', containLabel: false, outerBoundsMode: 'none'}, g)),
  xAxis: grids.map((g, i) => ({
    type: 'value', gridIndex: i, min: 0, max: xMax[i],
    axisLine: {show: true, onZero: false, lineStyle: {color: '#000', width: 1}},
    axisTick: {show: true, length: 6, customValues: tickValues, lineStyle: {color: '#000'}},
    axisLabel: {customValues: tickValues, margin: 8, color: '#000', fontSize: 18, fontFamily: FONT},
    splitLine: {show: false}
  })),
  yAxis: grids.map((g, i) => ({
    type: 'value', gridIndex: i, min: 0, max: yMax[i],
    axisLine: {show: true, onZero: false, lineStyle: {color: '#000', width: 1}},
    axisTick: {show: true, length: 6, customValues: tickValues, lineStyle: {color: '#000'}},
    axisLabel: {customValues: tickValues, margin: 10, color: '#000', fontSize: 18, fontFamily: FONT},
    splitLine: {show: false}
  })),
  title: [].concat(
    panelTitles.map((t, i) => ({text: t, left: titleCenters[i][0], top: titleCenters[i][1], textAlign: 'center', padding: 0,
      textStyle: {fontSize: 18, fontWeight: 'normal', fontFamily: FONT, color: '#000'}})),
    panelLetters.map((t, i) => ({text: t, left: letterPos[i][0], top: letterPos[i][1], padding: 0,
      textStyle: {fontSize: 26, fontWeight: 'normal', fontFamily: FONT, color: '#000'}})),
    rmseValues.map((v, i) => ({text: 'RMSE = ' + v, left: rmsePos[i][0], top: rmsePos[i][1], padding: 0,
      textStyle: {fontSize: 25, fontWeight: 'normal', fontFamily: FONT, color: '#000'}}))
  ),
  legend: legendPos.map((p, i) => ({
    data: seriesNames, orient: 'vertical', left: p.left, top: p.top,
    itemWidth: 6, itemHeight: 6, itemGap: 7,
    padding: [6, 6, 7, 21],
    backgroundColor: 'rgba(255,255,255,0.8)', borderColor: '#cccccc', borderWidth: 1, borderRadius: 4,
    selectedMode: false,
    textStyle: {fontSize: 18, fontFamily: FONT, color: '#000', lineHeight: 18, padding: [0, 0, 0, 23]}
  })),
  series: []
};

for (let i = 0; i < 4; i++) {
  option.series.push({
    type: 'scatter', name: seriesNames[0], xAxisIndex: i, yAxisIndex: i, data: trainSets[i],
    symbol: 'rect', symbolSize: 5, itemStyle: {color: 'rgba(0,0,255,0.5)'}, z: 2, silent: true
  });
  option.series.push({
    type: 'scatter', name: seriesNames[1], xAxisIndex: i, yAxisIndex: i, data: testSets[i],
    symbol: 'circle', symbolSize: 6, itemStyle: {color: 'rgba(255,0,0,0.5)'}, z: 3, silent: true
  });
  option.series.push({
    type: 'line', name: 'parity', xAxisIndex: i, yAxisIndex: i,
    data: [[parityEnds[i][0], parityEnds[i][0]], [parityEnds[i][1], parityEnds[i][1]]],
    symbol: 'none', clip: true, silent: true, z: 4,
    lineStyle: {color: '#000', width: 1.5, type: [14, 9]}
  });
}

chart.setOption(option);
</script>
</body>
</html>
